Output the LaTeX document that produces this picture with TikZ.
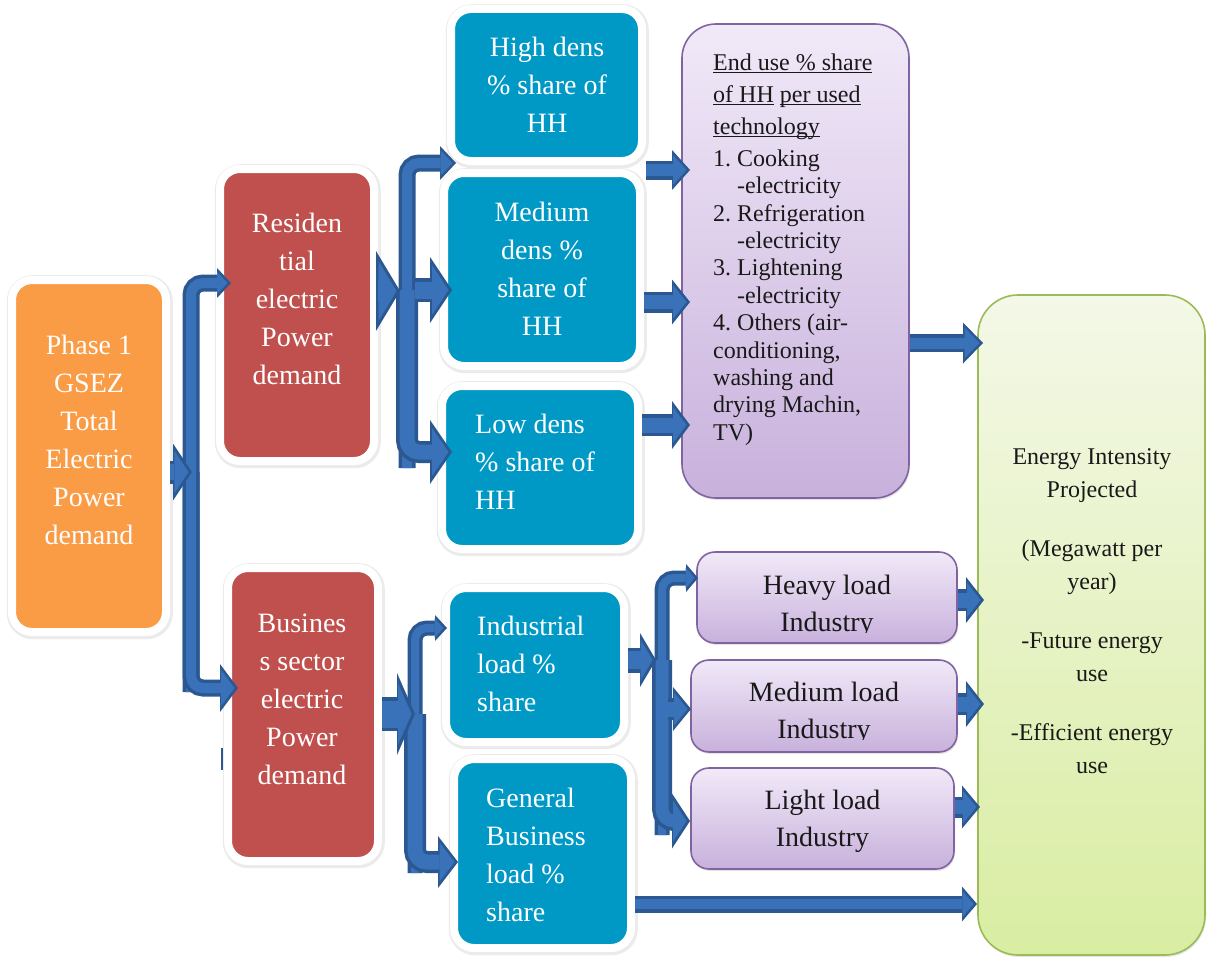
\documentclass[tikz,border=0pt]{standalone}
\usepackage{fontspec}
\setmainfont{Liberation Serif}
\usetikzlibrary{
    arrows.meta,
    shadows
}
\newsavebox\ulbox
\newcommand{\uln}[1]{\sbox\ulbox{#1}\rlap{\rule[-2.5pt]{\wd\ulbox}{1.1pt}}\usebox\ulbox}
\definecolor{phaseorange}{HTML}{FA9B45}
\definecolor{demandred}{HTML}{C0504D}
\definecolor{shareteal}{HTML}{0099C6}
\definecolor{lilactop}{HTML}{F1E9F8}
\definecolor{lilacbottom}{HTML}{C8B1DC}
\definecolor{lilacedge}{HTML}{8064A2}
\definecolor{limetop}{HTML}{F4F8E8}
\definecolor{limebottom}{HTML}{D9EDA2}
\definecolor{limeedge}{HTML}{9BBB59}
\definecolor{arrowfill}{HTML}{3A72B9}
\definecolor{arrowedge}{HTML}{2B5890}
\tikzset {
    framed/.style = {
        draw = white, line width = 8pt, rounded corners = 20pt,
        preaction = {
            draw = black!8, line width = 12pt,
            transform canvas = {shift = {(0.8pt, -1.2pt)}}
        }
    },
    orange box/.style = {framed, fill = phaseorange},
    red box/.style = {framed, fill = demandred},
    teal box/.style = {framed, fill = shareteal},
    lilac box/.style = {
        draw = lilacedge, line width = 1.6pt, rounded corners = #1,
        top color = lilactop, bottom color = lilacbottom,
        drop shadow = {opacity = 0.2, shadow xshift = 1pt, shadow yshift = -2pt}
    },
    lime box/.style = {
        draw = limeedge, line width = 1.6pt, rounded corners = #1,
        top color = limetop, bottom color = limebottom,
        drop shadow = {opacity = 0.2, shadow xshift = 1pt, shadow yshift = -2pt}
    },
    white text/.style = {
        text = white, align = center, inner sep = 0pt,
        font = \fontsize{28}{38}\selectfont\frenchspacing
    },
    dark text/.style = {
        text = black!90, align = center, inner sep = 0pt,
        font = \fontsize{28}{37}\selectfont\frenchspacing
    },
    small text/.style = {
        text = black!90, inner sep = 0pt,
        font = \fontsize{24}{27.4}\selectfont\frenchspacing
    },
    block/.style n args = {3}{
        preaction = {
            draw = arrowedge, line width = #1pt, shorten > = 0pt,
            -{Triangle[length = #3pt, width = #2pt, line width = 0pt]}
        },
        draw = arrowfill, line width = #1pt - 7pt,
        shorten > = 3.5pt, rounded corners = 12pt,
        -{Triangle[length = #3pt, width = #2pt, line width = 0pt, scale = 0.74]}
    }
}

\begin{document}
\begin{tikzpicture}[x = 1pt, y = -1pt]
    \useasboundingbox (0, 0) rectangle (1209, 958);

    % demand boxes
    \node[orange box, minimum width = 154pt, minimum height = 352pt] (phase) at (89, 456) {};
    \node[red box, minimum width = 154pt, minimum height = 292pt] (res) at (297, 315) {};
    \node[red box, minimum width = 150pt, minimum height = 293pt] (bus) at (303, 714.5) {};
    \node[white text] (phasetext) at (89, 440) {Phase 1\\GSEZ\\Total\\Electric\\Power\\demand};
    \node[white text] (restext) at (297, 299) {Residen\\tial\\electric\\Power\\demand};
    \node[white text] (bustext) at (302, 699) {Busines\\s sector\\electric\\Power\\demand};

    % share boxes
    \node[teal box, minimum width = 191pt, minimum height = 152pt] (high) at (546.5, 85) {};
    \node[teal box, minimum width = 196pt, minimum height = 193pt] (med) at (542, 269.5) {};
    \node[teal box, minimum width = 196pt, minimum height = 163pt] (low) at (540, 467.5) {};
    \node[teal box, minimum width = 178pt, minimum height = 154pt] (ind) at (535, 665) {};
    \node[teal box, minimum width = 177pt, minimum height = 189pt] (gen) at (542.5, 853.5) {};
    \node[white text] (hightext) at (547, 85) {High dens\\\% share of\\HH};
    \node[white text] (medtext) at (542, 269) {Medium\\dens \%\\share of\\HH};
    \node[white text, align = left, anchor = west] (lowtext) at (475, 462) {Low dens\\\% share of\\HH};
    \node[white text, align = left, anchor = west] (indtext) at (477, 663.5) {Industrial\\load \%\\share};
    \node[white text, align = left, anchor = west] (gentext) at (486, 854.5) {General\\Business\\load \%\\share};

    % end use and industry boxes
    \node[lilac box = 34pt, minimum width = 227pt, minimum height = 474pt] (enduse) at (795.5, 261) {};
    \node[lilac box = 18pt, minimum width = 260pt, minimum height = 91pt] (heavy) at (827, 597.5) {};
    \node[lilac box = 18pt, minimum width = 266pt, minimum height = 92pt] (medload) at (824, 706) {};
    \node[lilac box = 18pt, minimum width = 263pt, minimum height = 101pt] (light) at (822.5, 818.5) {};
    \node[small text, align = left, anchor = north west] (endtext) at (713, 54) {%
        \uln{End use \% share}\\[4.4pt]
        \uln{of HH} \uln{per used}\\[4.4pt]
        \uln{technology}\\[4.4pt]
        1. Cooking\\
        \hspace*{1em}-electricity\\
        2. Refrigeration\\
        \hspace*{1em}-electricity\\
        3. Lightening\\
        \hspace*{1em}-electricity\\
        4. Others (air-\\
        conditioning,\\
        washing and\\
        drying Machin,\\
        TV)};
    \begin{scope}
        \clip (heavy.north west) rectangle (heavy.east |- 0, 632);
        \node[dark text] (heavytext) at (827, 606.5) {Heavy load\\Industry};
    \end{scope}
    \begin{scope}
        \clip (medload.north west) rectangle (medload.east |- 0, 739);
        \node[dark text] (medloadtext) at (824, 713.5) {Medium load\\Industry};
    \end{scope}
    \node[dark text] (lighttext) at (822.5, 821.5) {Light load\\Industry};

    % result box
    \node[lime box = 40pt, minimum width = 227pt, minimum height = 660pt] (energy) at (1091.5, 625) {};
    \node[small text, align = center, font = \fontsize{24}{32.5}\selectfont] (energytext) at (1092, 611) {%
        Energy Intensity\\Projected\\[27pt]
        (Megawatt per\\year)\\[27pt]
        -Future energy\\use\\[27pt]
        -Efficient energy\\use};

    % junction points
    \coordinate (bar1) at (191, 472);
    \coordinate (bar2) at (407, 290);
    \coordinate (bar3) at (415, 714);
    \coordinate (bar4) at (662, 660);
    \coordinate (b1 low) at (191, 692);
    \coordinate (b2 low) at (407, 468);
    \coordinate (b2 right) at (415, 290);
    \coordinate (b3 low) at (415, 873);
    \coordinate (b4 low) at (662, 835);
    \coordinate (b4 right) at (668, 709);
    \coordinate (tip1) at (192, 472);
    \coordinate (tip2) at (400, 291);
    \coordinate (tip3) at (415, 714);
    \coordinate (tip4) at (656, 660);
    \coordinate (res in) at (231, 283);
    \coordinate (bus in) at (238, 688);
    \coordinate (high in) at (456, 163);
    \coordinate (med in) at (452, 290);
    \coordinate (low in) at (452, 452);
    \coordinate (ind in) at (447, 628);
    \coordinate (gen in) at (458, 862);
    \coordinate (heavy in) at (698, 578);
    \coordinate (medload in) at (691, 709);
    \coordinate (light in) at (690, 821);
    \coordinate (eu a) at (690, 170);
    \coordinate (eu b) at (690, 302);
    \coordinate (eu c) at (690, 425);
    \coordinate (en a) at (983, 343);
    \coordinate (en b) at (984, 600);
    \coordinate (en c) at (984, 704);
    \coordinate (en d) at (980, 807);
    \coordinate (en e) at (977, 904);

    % arrows
    \draw[block = {17}{30}{14}] (b1 low) |- (res in);
    \draw[block = {17}{48}{18}] (bar1) |- (bus in);
    \draw[block = {23}{57}{19}] (phase.east |- tip1) -- (tip1);

    \draw[block = {17}{34}{16}] (b2 low) |- (high in);
    \draw[block = {22}{64}{22}] (bar2) |- (low in);
    \draw[block = {24}{66}{22}] (b2 right) -- (med in);
    \draw[block = {28}{80}{24}] (res.east |- tip2) -- (tip2);

    \draw[block = {15}{26}{12}] (b3 low) |- (ind in);
    \draw[block = {22}{52}{20}] (bar3) |- (gen in);
    \draw[block = {34}{82}{18}] (bus.east |- tip3) -- (tip3);

    \draw[block = {15}{28}{12}] (b4 low) |- (heavy in);
    \draw[block = {20}{55}{18}] (bar4) |- (light in);
    \draw[block = {22}{44}{18}] (b4 right) -- (medload in);
    \draw[block = {25}{54}{16}] (ind.east |- tip4) -- (tip4);

    \draw[block = {19}{40}{18}] (high.east |- eu a) -- (eu a);
    \draw[block = {21}{45}{18}] (med.east |- eu b) -- (eu b);
    \draw[block = {22}{48}{18}] (low.east |- eu c) -- (eu c);
    \draw[block = {18}{41}{20}] (enduse.east |- en a) -- (en a);
    \draw[block = {22}{46}{18}] (heavy.east |- en b) -- (en b);
    \draw[block = {22}{46}{18}] (medload.east |- en c) -- (en c);
    \draw[block = {21}{43}{18}] (light.east |- en d) -- (en d);
    \draw[block = {17}{35}{15}] (gen.east |- en e) -- (en e);

    \draw[arrowedge, line width = 2.5pt] (222, 748) -- (222, 770);
\end{tikzpicture}
\end{document}
